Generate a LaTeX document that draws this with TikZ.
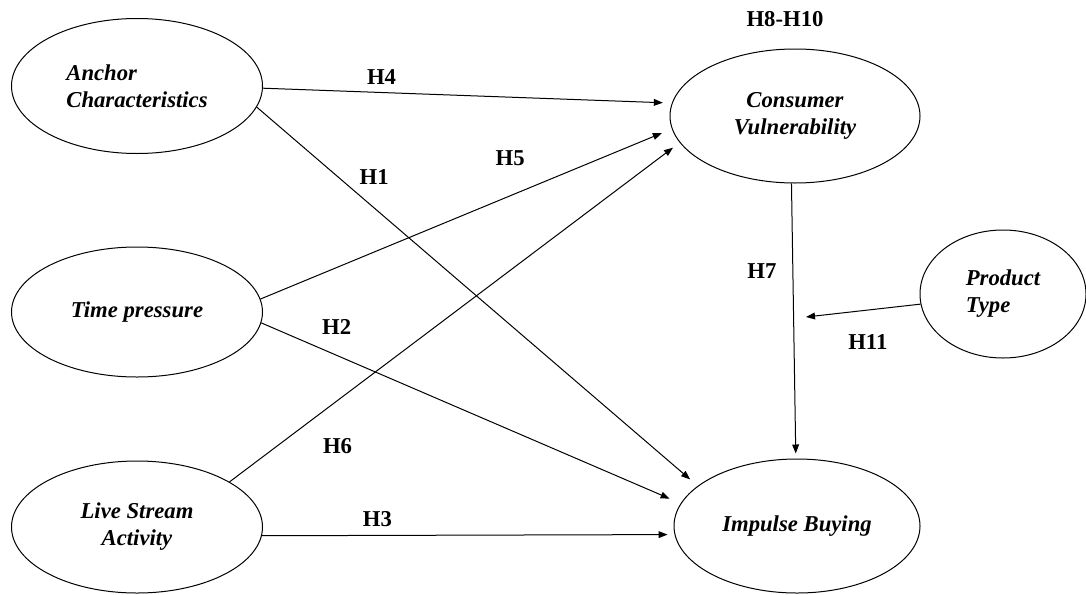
\documentclass[tikz,border=0pt]{standalone}
\usepackage{fontspec}
\setmainfont{Liberation Serif}
\usetikzlibrary{positioning}
\usetikzlibrary{shapes.geometric}
\usetikzlibrary{arrows.meta}

\tikzset{
	construct/.style={ellipse, draw, line width=0.5pt, inner sep=0pt, align=center, font=\fontsize{11.35}{13.5}\selectfont\bfseries\itshape},
	hyp/.style={line width=0.5pt, -{Triangle[length=4.5pt,width=3.4pt]}},
	hlabel/.style={inner sep=0pt, font=\fontsize{11.35}{13.5}\selectfont\bfseries}
}

\begin{document}
\begin{tikzpicture}[x=0.5pt, y=-0.5pt]
				\useasboundingbox (0,0) rectangle (1086,594);
				
				\node[construct, align=left, minimum width=125.5pt, minimum height=67.5pt] (ac) at (137,86) {Anchor\\Characteristics};
				\node[construct, minimum width=125.5pt, minimum height=65pt] (tp) at (137,312) {Time pressure};
				\node[construct, minimum width=125.5pt, minimum height=66pt] (ls) at (137,527) {Live Stream\\Activity};
				\node[construct, minimum width=125pt, minimum height=67pt] (cv) at (795,116) {Consumer\\Vulnerability};
				\node[construct, minimum width=123pt, minimum height=67pt] (ib) at (797,526) {Impulse Buying};
				\node[construct, align=left, minimum width=83pt, minimum height=64pt] (pt) at (1003,294) {Product\\Type};
				\coordinate (mod) at (806,317);
				
				\node[hlabel, above=10.75pt of cv, xshift=-5pt] (h8) {H8-H10};
				
				\draw[hyp, shorten >=4.5pt]  (ac.-1) -- (cv.174) node[hlabel, pos=0.29, above=3.8pt] (h4) {H4};
				\draw[hyp, shorten >=5pt]  (ac.-10) -- (ib.158) node[hlabel, pos=0.185, right=10.4pt] (h1) {H1};
				\draw[hyp, shorten >=5.4pt]  (tp.6) -- (cv.-174) node[hlabel, pos=0.607, above=15pt] (h5) {H5};
				\draw[hyp, shorten >=6pt]  (tp.-5) -- (ib.169) node[hlabel, pos=0.18, above=10pt] (h2) {H2};
				\draw[hyp, shorten >=4.2pt]  (ls.26) -- (cv.-167) node[hlabel, pos=0.24, below=18.6pt] (h6) {H6};
				\draw[hyp, shorten >=3.5pt]  (ls.-4) -- (ib.-176) node[hlabel, pos=0.28, above=3.9pt] (h3) {H3};
				\draw[hyp, shorten >=2.5pt]  (cv.-93) -- (ib.91) node[hlabel, pos=0.32, left=8pt] (h7) {H7};
				\draw[hyp]  (pt.-173) -- (mod) node[hlabel, pos=0.46, below=12pt] (h11) {H11};
			\end{tikzpicture}
\end{document}
